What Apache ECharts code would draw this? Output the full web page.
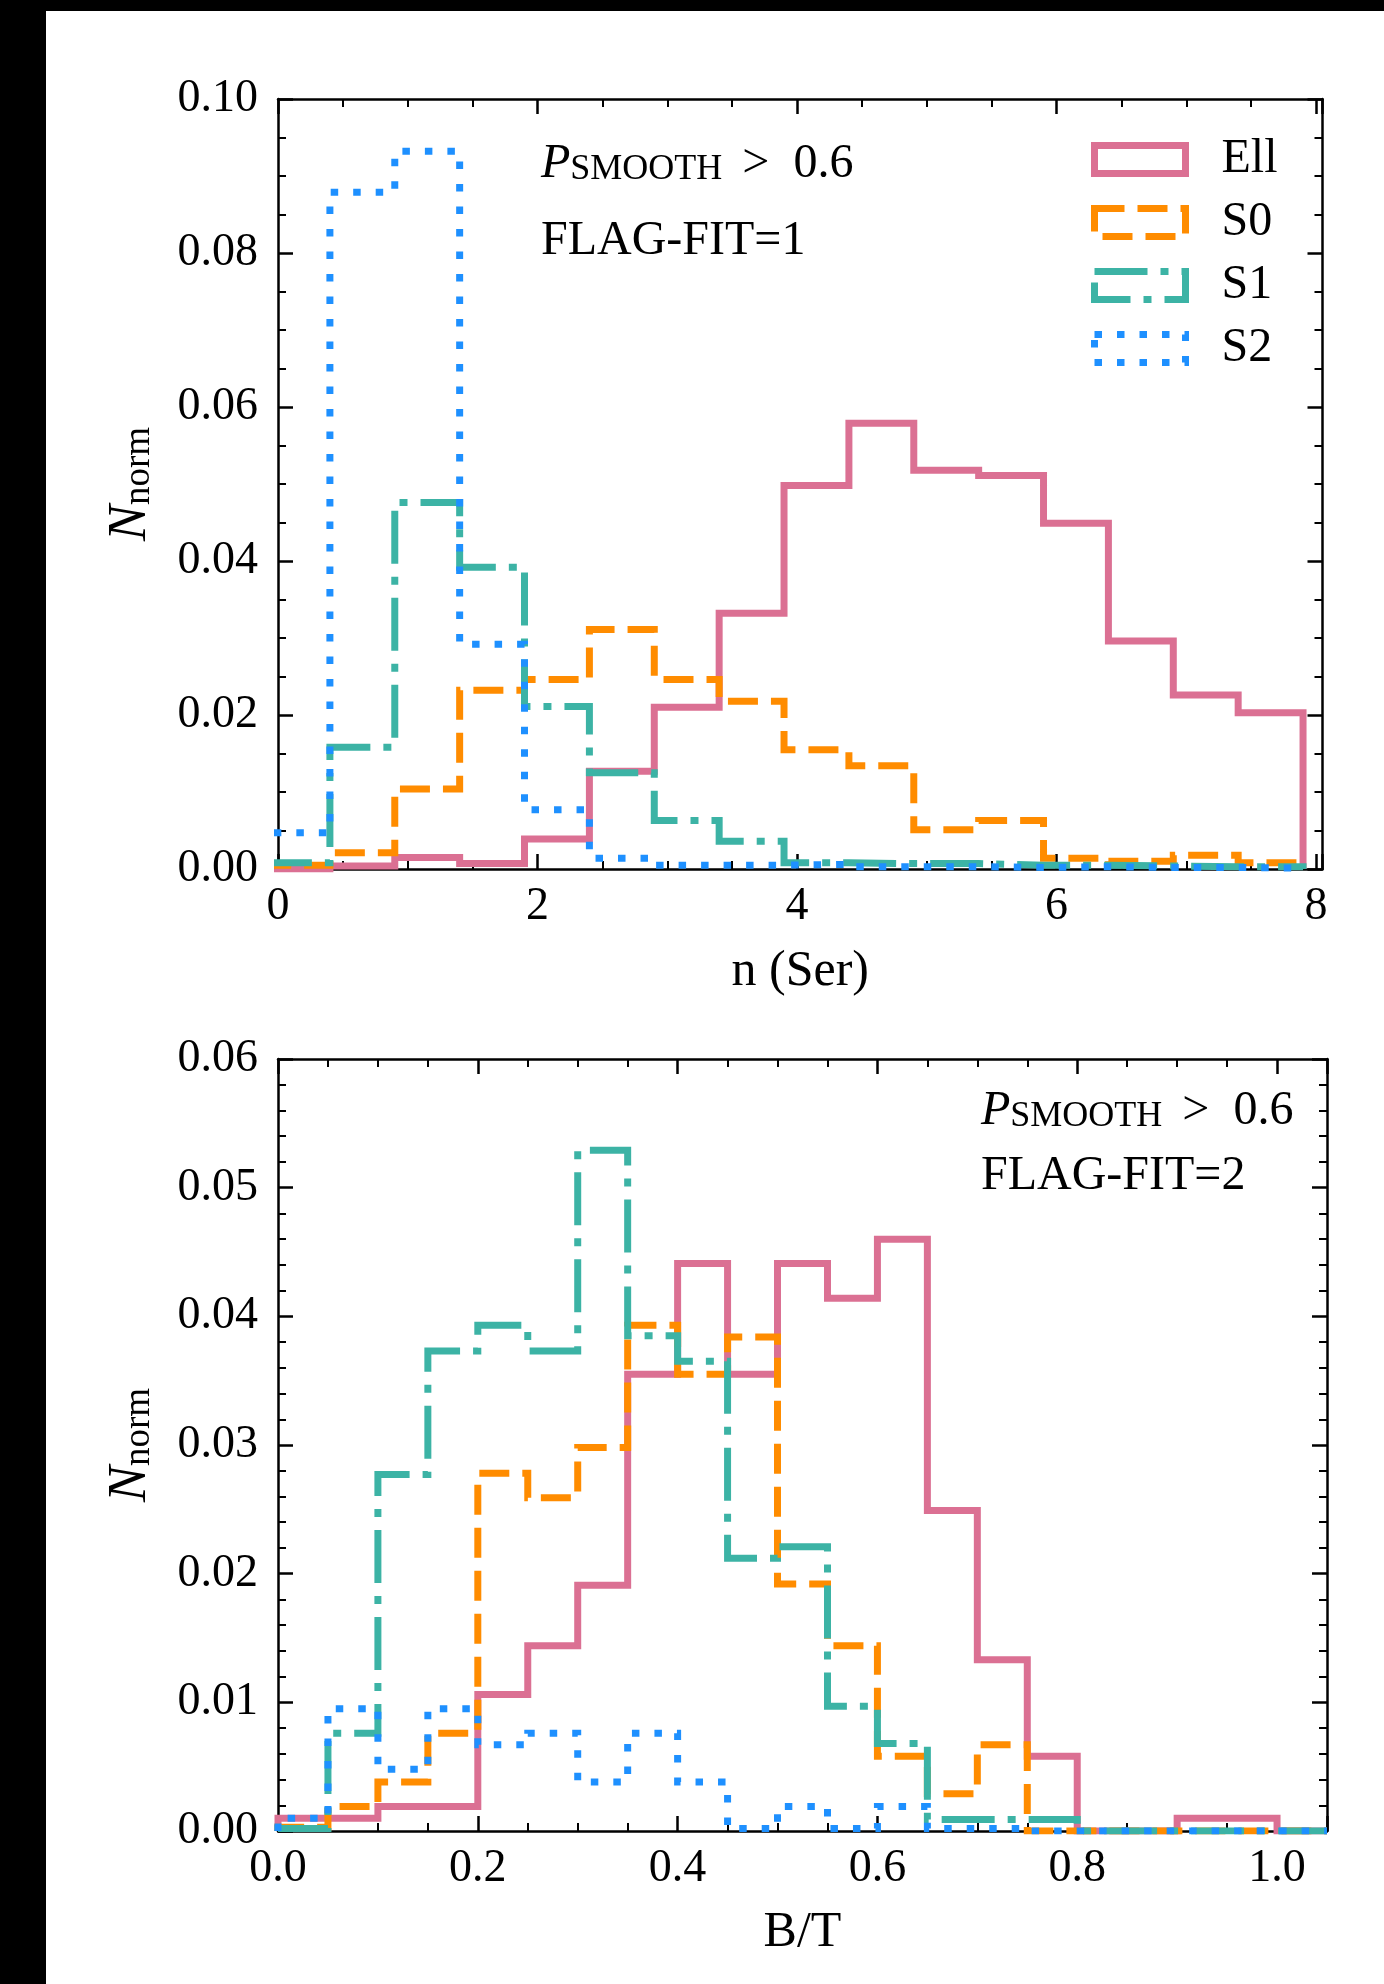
<!DOCTYPE html>
<html>
<head>
<meta charset="utf-8">
<script src="https://cdn.jsdelivr.net/npm/echarts@6/dist/echarts.min.js"></script>
<style>
  html, body { margin: 0; padding: 0; background: #000; width: 1384px; height: 1984px; overflow: hidden; }
  #chart { position: absolute; left: 46px; top: 11px; width: 1338px; height: 1973px; background: #fff; }
</style>
</head>
<body>
<div id="chart"></div>
<script>
// ---- Sersic index n, FLAG-FIT = 1 (bin edges and normalised counts) ----
const nEdges = [-0.1, 0.4, 0.9, 1.4, 1.9, 2.4, 2.9, 3.4, 3.9, 4.4, 4.9, 5.4, 5.9, 6.4, 6.9, 7.4, 7.9];
const nEll = [0, 0.0004, 0.0015, 0.0007, 0.0039, 0.0127, 0.0210, 0.0332, 0.0498, 0.0579, 0.0518, 0.0511, 0.0449, 0.0296, 0.0226, 0.0203];
const nS0  = [0.0005, 0.0021, 0.0104, 0.0232, 0.0246, 0.0311, 0.0246, 0.0218, 0.0155, 0.0134, 0.0051, 0.0063, 0.0014, 0.0010, 0.0018, 0.0008];
const nS1  = [0.0008, 0.0158, 0.0476, 0.0392, 0.0211, 0.0125, 0.0063, 0.0036, 0.0008, 0.0007, 0.0007, 0.0005, 0.0005, 0.0004, 0.0003, 0.0003];
const nS2  = [0.0047, 0.0879, 0.0932, 0.0292, 0.0077, 0.0014, 0.0005, 0.0005, 0.0006, 0.0003, 0.0003, 0.0002, 0.0003, 0.0002, 0.0002, 0.0001];

// ---- Bulge-to-total ratio B/T, FLAG-FIT = 2 ----
const btEdges = [0, 0.05, 0.1, 0.15, 0.2, 0.25, 0.3, 0.35, 0.4, 0.45, 0.5, 0.55, 0.6, 0.65, 0.7, 0.75, 0.8, 0.85, 0.9, 0.95, 1.0, 1.05];
const btEll = [0.001, 0.001, 0.0019, 0.0019, 0.0106, 0.0144, 0.0191, 0.0355, 0.0441, 0.0355, 0.0441, 0.0414, 0.0460, 0.0249, 0.0133, 0.0058, 0, 0, 0.001, 0.001, 0];
const btS0  = [0.0003, 0.0019, 0.0038, 0.0076, 0.0278, 0.0259, 0.0298, 0.0393, 0.0355, 0.0384, 0.0192, 0.0144, 0.0058, 0.0029, 0.0067, 0, 0, 0, 0, 0, 0];
const btS1  = [0.0002, 0.0076, 0.0277, 0.0373, 0.0393, 0.0373, 0.0529, 0.0385, 0.0365, 0.0212, 0.0221, 0.0097, 0.0068, 0.0009, 0.0009, 0.0009, 0, 0, 0, 0, 0];
const btS2  = [0.001, 0.0095, 0.0048, 0.0095, 0.0067, 0.0076, 0.0038, 0.0076, 0.0038, 0.0002, 0.0019, 0.0002, 0.0019, 0.0002, 0.0002, 0, 0, 0, 0, 0, 0];

// ---- axis ticks ----
const nTicks = { min: 0, max: 8.05, interval: 2, minorSplit: 4 };
const nNormTicks = { min: 0, max: 0.10, interval: 0.02, minorSplit: 4 };
const btTicks = { min: 0, max: 1.05, interval: 0.2, minorSplit: 4 };
const btNormTicks = { min: 0, max: 0.06, interval: 0.01, minorSplit: 5 };

const classes = ['Ell', 'S0', 'S1', 'S2'];
const classColors = { Ell: '#DB7093', S0: '#FF8C00', S1: '#3CB3A5', S2: '#1E90FF' };
const classDash = { Ell: 'solid', S0: [30, 13], S1: [53, 13, 8, 13], S2: [7.5, 15] };
const LW = 7;

const FONT = '"Liberation Serif", "Times New Roman", serif';

// outline of a step histogram: rise at the first edge, fall at the last
function stepOutline(edges, vals) {
  const pts = [[edges[0], 0]];
  for (let i = 0; i < vals.length; i++) pts.push([edges[i], vals[i]]);
  pts.push([edges[edges.length - 1], 0]);
  return pts;
}

function onMultiple(v, step) {
  const r = v / step;
  return Math.abs(r - Math.round(r)) < 1e-6;
}

function makeAxis(kind, gridIndex, position, t, showLabels, fmt, extra) {
  return Object.assign({
    type: 'value',
    gridIndex: gridIndex,
    position: position,
    min: t.min, max: t.max, interval: t.interval,
    axisLine: { show: true, onZero: false, lineStyle: { color: '#000', width: 2.5 } },
    axisTick: { show: true, inside: true, length: 15, lineStyle: { color: '#000', width: 2.5 } },
    minorTick: { show: true, splitNumber: t.minorSplit, length: 8, lineStyle: { color: '#000', width: 2 } },
    splitLine: { show: false },
    minorSplitLine: { show: false },
    axisLabel: {
      show: showLabels,
      margin: kind === 'x' ? 15 : 20,
      fontFamily: FONT, fontSize: 46, color: '#000',
      formatter: fmt
    },
    nameMoveOverlap: false,
    silent: true
  }, extra || {});
}

const nameStyle = { fontFamily: FONT, fontSize: 50, color: '#000' };
const yNameStyle = {
  fontFamily: FONT, fontSize: 54, color: '#000',
  rich: {
    i: { fontFamily: FONT, fontSize: 54, fontStyle: 'italic', color: '#000', lineHeight: 54, verticalAlign: 'bottom' },
    s: { fontFamily: FONT, fontSize: 37, color: '#000', lineHeight: 28, verticalAlign: 'bottom' }
  }
};

const fmtN = v => onMultiple(v, nTicks.interval) ? String(Math.round(v)) : '';
const fmtBT = v => onMultiple(v, btTicks.interval) ? v.toFixed(1) : '';
const fmtY = v => v.toFixed(2);

const xAxes = [
  makeAxis('x', 0, 'bottom', nTicks, true, fmtN, { name: 'n (Ser)', nameLocation: 'middle', nameGap: 78, nameTextStyle: nameStyle }),
  makeAxis('x', 0, 'top', nTicks, false, fmtN),
  makeAxis('x', 1, 'bottom', btTicks, true, fmtBT, { name: 'B/T', nameLocation: 'middle', nameGap: 77, nameTextStyle: nameStyle }),
  makeAxis('x', 1, 'top', btTicks, false, fmtBT)
];
const yAxes = [
  makeAxis('y', 0, 'left', nNormTicks, true, fmtY, { name: '{i|N}{s|norm}', nameLocation: 'middle', nameGap: 120, nameTextStyle: yNameStyle }),
  makeAxis('y', 0, 'right', nNormTicks, false, fmtY),
  makeAxis('y', 1, 'left', btNormTicks, true, fmtY, { name: '{i|N}{s|norm}', nameLocation: 'middle', nameGap: 120, nameTextStyle: yNameStyle }),
  makeAxis('y', 1, 'right', btNormTicks, false, fmtY)
];

const panels = [
  { axis: 0, edges: nEdges, data: { Ell: nEll, S0: nS0, S1: nS1, S2: nS2 } },
  { axis: 2, edges: btEdges, data: { Ell: btEll, S0: btS0, S1: btS1, S2: btS2 } }
];

const series = [];
panels.forEach(p => {
  classes.forEach(c => {
    series.push({
      type: 'line',
      name: c,
      xAxisIndex: p.axis,
      yAxisIndex: p.axis,
      step: 'end',
      symbol: 'none',
      showSymbol: false,
      clip: true,
      silent: true,
      emphasis: { disabled: true },
      lineStyle: { color: classColors[c], width: LW, type: classDash[c], cap: 'butt', join: 'miter' },
      itemStyle: { color: classColors[c] },
      data: stepOutline(p.edges, p.data[c])
    });
  });
});

// P_SMOOTH > 0.6 : italic P, small-caps subscript, then the threshold
const annRich = {
  p: { fontFamily: FONT, fontSize: 48, fontStyle: 'italic', lineHeight: 48, verticalAlign: 'bottom', fill: '#000' },
  s: { fontFamily: FONT, fontSize: 36, lineHeight: 30, verticalAlign: 'bottom', padding: [0, 20, 0, 0], fill: '#000' },
  g: { fontFamily: FONT, fontSize: 48, lineHeight: 48, verticalAlign: 'bottom', padding: [0, 24, 0, 0], fill: '#000' },
  v: { fontFamily: FONT, fontSize: 48, lineHeight: 48, verticalAlign: 'bottom', fill: '#000' }
};

function annText(x, y, text, rich) {
  return {
    type: 'text', x: x, y: y, silent: true,
    style: rich
      ? { text: text, rich: annRich, fontFamily: FONT, fontSize: 48, fill: '#000', align: 'left', verticalAlign: 'middle' }
      : { text: text, fontFamily: FONT, fontSize: 48, fill: '#000', align: 'left', verticalAlign: 'middle' }
  };
}

const option = {
  animation: false,
  backgroundColor: '#fff',
  grid: [
    { left: 232, top: 88, width: 1044.5, height: 770, containLabel: false, outerBoundsMode: 'none' },
    { left: 232, top: 1048, width: 1049, height: 772, containLabel: false, outerBoundsMode: 'none' }
  ],
  xAxis: xAxes,
  yAxis: yAxes,
  legend: {
    orient: 'vertical',
    left: 1045,
    top: 124.5,
    padding: 0,
    itemGap: 15,
    itemWidth: 91,
    itemHeight: 28,
    selectedMode: false,
    icon: 'rect',
    textStyle: { fontFamily: FONT, fontSize: 48, color: '#000', padding: [0, 0, 0, 31] },
    data: classes.map(c => ({
      name: c,
      icon: 'rect',
      itemStyle: { color: 'rgba(0,0,0,0)', borderColor: classColors[c], borderWidth: LW, borderType: classDash[c], borderCap: 'butt' }
    }))
  },
  graphic: [
    annText(495, 153, '{p|P}{s|SMOOTH}{g|>}{v|0.6}', true),
    annText(495, 230, 'FLAG-FIT=1', false),
    annText(935, 1100, '{p|P}{s|SMOOTH}{g|>}{v|0.6}', true),
    annText(935, 1165, 'FLAG-FIT=2', false)
  ],
  series: series
};

const chart = echarts.init(document.getElementById('chart'), null, { renderer: 'canvas' });
chart.setOption(option);
</script>
</body>
</html>
